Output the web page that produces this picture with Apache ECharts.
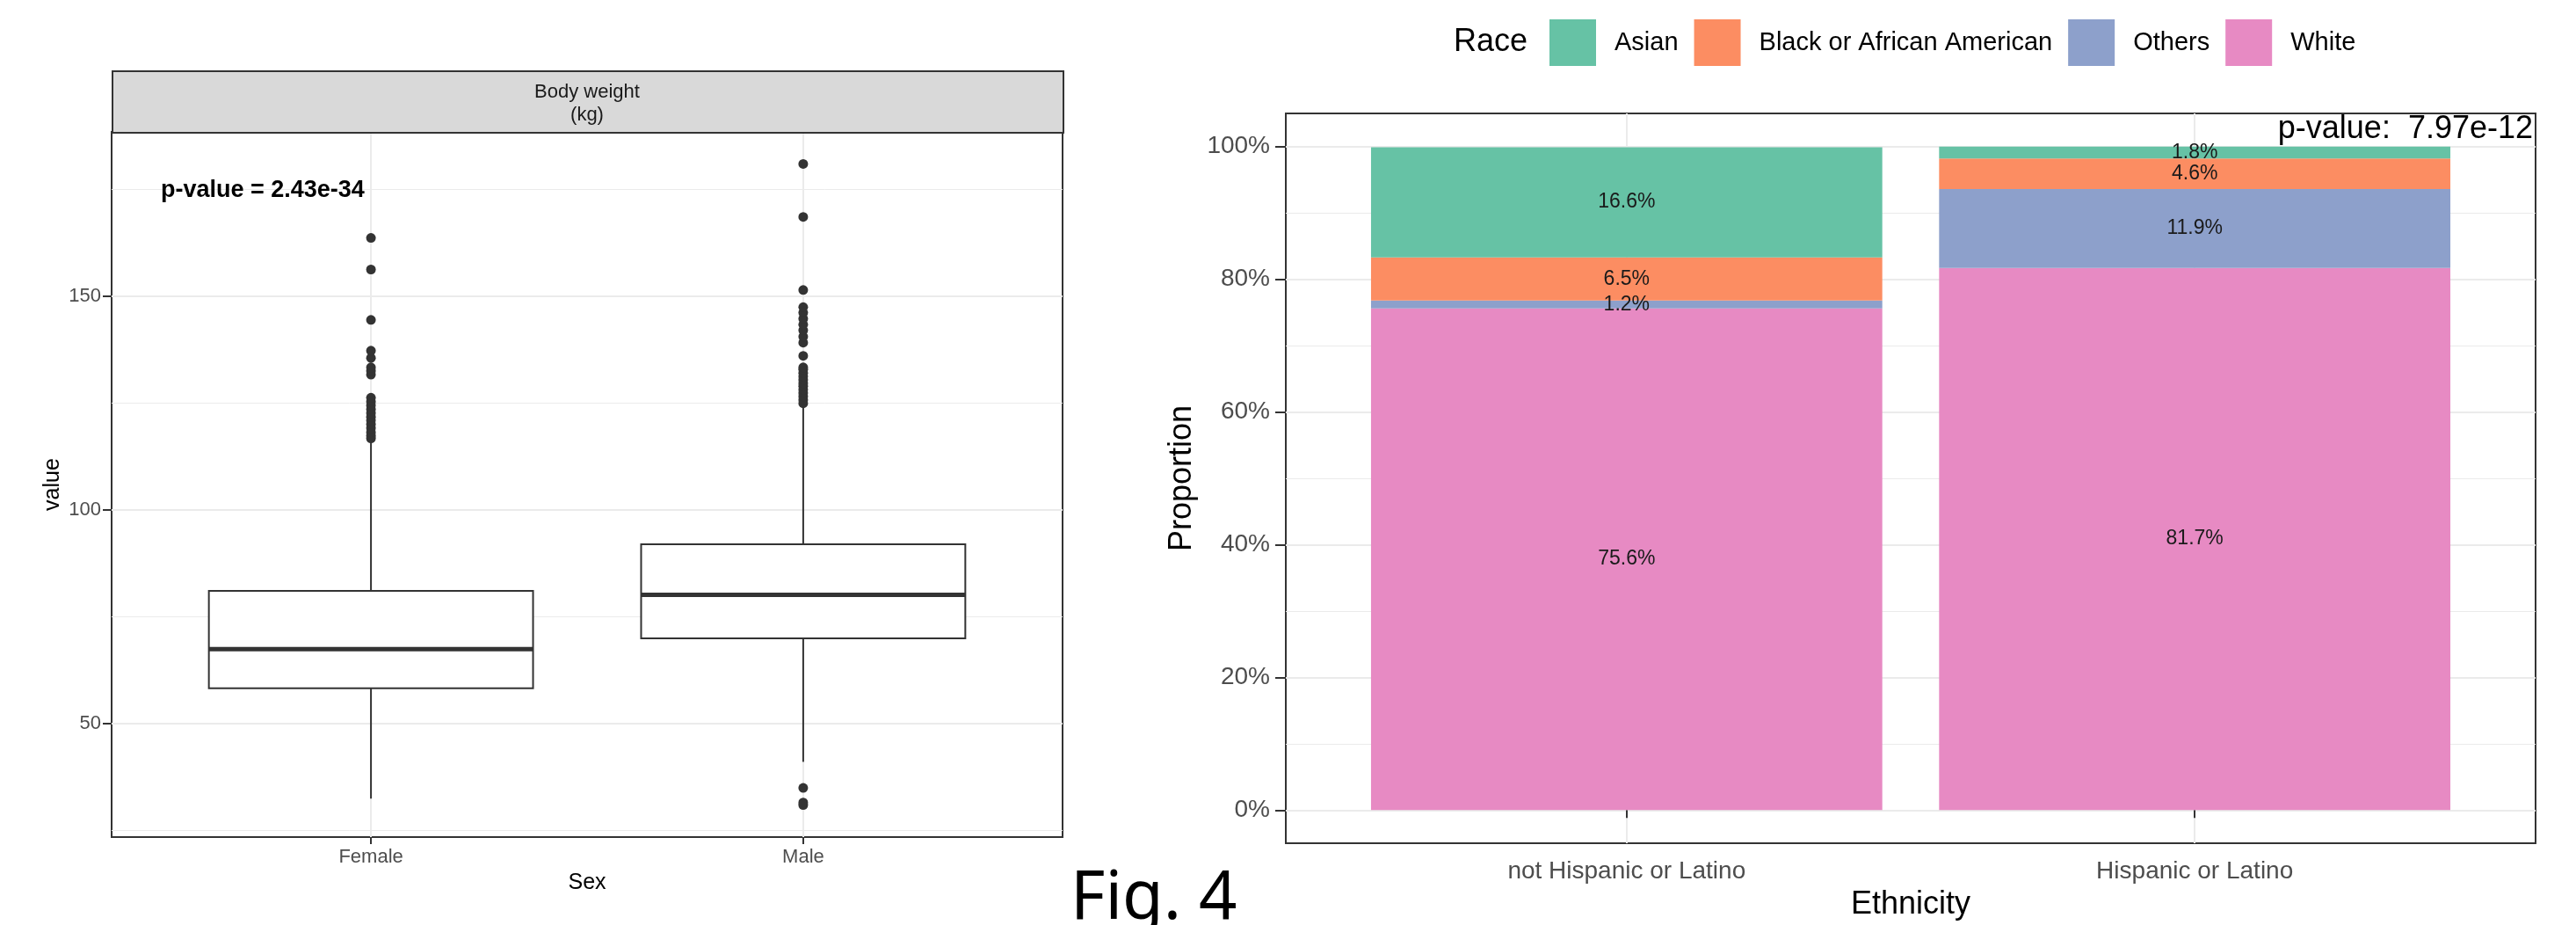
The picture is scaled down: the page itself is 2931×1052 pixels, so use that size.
<!DOCTYPE html>
<html>
<head>
<meta charset="utf-8">
<title>Fig. 4</title>
<script src="https://cdn.jsdelivr.net/npm/echarts@6/dist/echarts.min.js"></script>
<style>
  html, body { margin: 0; padding: 0; background: #fff; }
  #chart { width: 2931px; height: 1052px; }
</style>
</head>
<body>
<div id="chart"></div>
<script>
// ---- left panel: body weight by sex ----
var sexes = ['Female', 'Male'];
// [x, lower whisker, Q1, median, Q3, upper whisker]
var boxStats = [
  [1, 32.5, 58.3, 67.5, 81.1, 116.3],
  [2, 41.1, 70.0, 80.2, 92.0, 124.5]
];
var femaleOutliers = [116.8, 117.4, 118.2, 119.2, 120.1, 121.0, 121.8, 122.7, 123.6, 124.5,
  125.4, 126.3, 131.7, 132.6, 133.4, 135.6, 137.3, 144.5, 156.3, 163.7];
var maleOutliers = [31.0, 31.6, 35.0, 125.0, 125.8, 126.6, 127.4, 128.2, 129.0, 129.7, 130.5,
  131.3, 132.1, 132.9, 133.4, 136.1, 139.2, 140.6, 142.1, 143.4, 144.8, 146.2, 147.5,
  151.5, 168.6, 181.0];
var weightTicks = [50, 100, 150];
var weightMinor = [25, 75, 125, 175];

// ---- right panel: race by ethnicity ----
var ethnicities = ['not Hispanic or Latino', 'Hispanic or Latino'];
var races = ['Asian', 'Black or African American', 'Others', 'White'];
var raceColors = ['#66C2A5', '#FC8D62', '#8DA0CB', '#E78AC3'];
var asian = [16.6, 1.8];
var black = [6.5, 4.6];
var others = [1.2, 11.9];
var white = [75.6, 81.7];
var pctTicks = [0, 20, 40, 60, 80, 100];
var pctMinor = [10, 30, 50, 70, 90];

var FONT = '"Liberation Sans", Arial, sans-serif';
var GRID_COLOR = '#EBEBEB';

var myChart = echarts.init(document.getElementById('chart'), null, {renderer: 'canvas'});

// ggplot-like box: no whisker caps, thick median
function renderBox(params, api) {
  var x = api.value(0);
  var half = 0.375;
  var lt = api.coord([x - half, api.value(4)]);
  var rb = api.coord([x + half, api.value(2)]);
  var top = api.coord([x, api.value(5)]);
  var bot = api.coord([x, api.value(1)]);
  var med = api.coord([x, api.value(3)]);
  var ls = {stroke: '#333333', lineWidth: 2};
  return {
    type: 'group',
    children: [
      {type: 'line', shape: {x1: top[0], y1: top[1], x2: top[0], y2: lt[1]}, style: ls},
      {type: 'line', shape: {x1: bot[0], y1: rb[1], x2: bot[0], y2: bot[1]}, style: ls},
      {type: 'rect', shape: {x: lt[0], y: lt[1], width: rb[0] - lt[0], height: rb[1] - lt[1]},
        style: {fill: '#ffffff', stroke: '#333333', lineWidth: 2}},
      {type: 'line', shape: {x1: lt[0], y1: med[1], x2: rb[0], y2: med[1]},
        style: {stroke: '#333333', lineWidth: 5}}
    ]
  };
}

var outlierData = femaleOutliers.map(function (v) { return [1, v]; })
  .concat(maleOutliers.map(function (v) { return [2, v]; }));

// value first so the stack runs along y
function raceSeries(name, values, color) {
  return {
    name: name,
    type: 'bar',
    xAxisIndex: 1,
    yAxisIndex: 3,
    stack: 'race',
    barWidth: '90%',
    encode: {x: 1, y: 0},
    itemStyle: {color: color},
    label: {
      show: true,
      position: 'inside',
      fontSize: 23,
      fontFamily: FONT,
      color: '#1a1a1a',
      formatter: function (p) { return p.value[0].toFixed(1) + '%'; }
    },
    data: values.map(function (v, i) { return [v, i + 1]; })
  };
}

var option = {
  animation: false,
  backgroundColor: '#ffffff',
  textStyle: {fontFamily: FONT},
  grid: [
    {left: 127, top: 150, width: 1082, height: 802, show: true,
      borderColor: '#333333', borderWidth: 2, backgroundColor: 'transparent', outerBoundsMode: 'none'},
    {left: 1463, top: 129, width: 1422, height: 830, show: true,
      borderColor: '#333333', borderWidth: 2, backgroundColor: 'transparent', outerBoundsMode: 'none'}
  ],
  legend: {
    data: races,
    left: 1758,
    top: 17,
    itemWidth: 53,
    itemHeight: 53,
    itemGap: 18,
    icon: 'rect',
    textStyle: {fontSize: 29, color: '#000000', fontFamily: FONT, padding: [0, 0, 0, 16]}
  },
  xAxis: [
    {
      gridIndex: 0, type: 'value', min: 0.4, max: 2.6,
      axisLine: {show: false},
      axisTick: {customValues: [1, 2], length: 8, lineStyle: {color: '#333333', width: 2}},
      axisLabel: {customValues: [1, 2], margin: 12, fontSize: 22, color: '#4D4D4D',
        formatter: function (v) { return sexes[Math.round(v) - 1]; }},
      splitLine: {show: true, lineStyle: {color: GRID_COLOR, width: 2}},
      name: 'Sex', nameLocation: 'middle', nameGap: 40,
      nameTextStyle: {fontSize: 25, color: '#000000'}
    },
    {
      gridIndex: 1, type: 'value', min: 0.4, max: 2.6,
      axisLine: {show: false},
      axisTick: {customValues: [1, 2], length: 9, lineStyle: {color: '#333333', width: 2}},
      axisLabel: {customValues: [1, 2], margin: 18, fontSize: 28, color: '#4D4D4D',
        formatter: function (v) { return ethnicities[Math.round(v) - 1]; }},
      splitLine: {show: true, lineStyle: {color: GRID_COLOR, width: 2}},
      name: 'Ethnicity', nameLocation: 'middle', nameGap: 52,
      nameTextStyle: {fontSize: 36, color: '#000000'}
    }
  ],
  yAxis: [
    {
      gridIndex: 0, type: 'value', min: 23.5, max: 188.5,
      axisLine: {show: false},
      axisTick: {show: false, customValues: weightMinor},
      axisLabel: {show: false},
      splitLine: {show: true, lineStyle: {color: GRID_COLOR, width: 1}}
    },
    {
      gridIndex: 0, type: 'value', min: 23.5, max: 188.5, position: 'left',
      axisLine: {show: false},
      axisTick: {customValues: weightTicks, length: 10, lineStyle: {color: '#333333', width: 2}},
      axisLabel: {customValues: weightTicks, margin: 12, fontSize: 22, color: '#4D4D4D'},
      splitLine: {show: true, lineStyle: {color: GRID_COLOR, width: 2}},
      name: 'value', nameLocation: 'middle', nameGap: 54,
      nameTextStyle: {fontSize: 25, color: '#000000'}
    },
    {
      gridIndex: 1, type: 'value', min: -5, max: 105,
      axisLine: {show: false},
      axisTick: {show: false, customValues: pctMinor},
      axisLabel: {show: false},
      splitLine: {show: true, lineStyle: {color: GRID_COLOR, width: 1}}
    },
    {
      gridIndex: 1, type: 'value', min: -5, max: 105, position: 'left',
      axisLine: {show: false},
      axisTick: {customValues: pctTicks, length: 12, lineStyle: {color: '#333333', width: 2}},
      axisLabel: {customValues: pctTicks, margin: 18, fontSize: 28, color: '#4D4D4D',
        formatter: function (v) { return v + '%'; }},
      splitLine: {show: true, lineStyle: {color: GRID_COLOR, width: 2}},
      name: 'Proportion', nameLocation: 'middle', nameGap: 100,
      nameTextStyle: {fontSize: 36, color: '#000000'}
    }
  ],
  graphic: [
    // facet strip
    {type: 'rect', left: 127, top: 80, z: 10,
      shape: {width: 1082, height: 70},
      style: {fill: '#D9D9D9', stroke: '#333333', lineWidth: 2}},
    {type: 'text', x: 668, y: 118, z: 11,
      style: {text: 'Body weight\n(kg)', align: 'center', verticalAlign: 'middle',
        font: '22px ' + FONT, lineHeight: 26, fill: '#1A1A1A'}},
    {type: 'text', x: 183, y: 217, z: 11,
      style: {text: 'p-value = 2.43e-34', align: 'left', verticalAlign: 'middle',
        font: 'bold 27px ' + FONT, fill: '#000000'}},
    {type: 'text', x: 2882, y: 147, z: 11,
      style: {text: 'p-value:  7.97e-12', align: 'right', verticalAlign: 'middle',
        font: '36px ' + FONT, fill: '#000000'}},
    {type: 'text', x: 1654, y: 48, z: 11,
      style: {text: 'Race', align: 'left', verticalAlign: 'middle',
        font: '36px ' + FONT, fill: '#000000'}},
    {type: 'text', x: 1218, y: 1023, z: 11,
      style: {text: 'Fig. 4', align: 'left', verticalAlign: 'middle',
        font: '76px "Noto Sans", sans-serif', fill: '#000000'}}
  ],
  series: [
    {
      name: 'Body weight',
      type: 'custom',
      xAxisIndex: 0,
      yAxisIndex: 0,
      renderItem: renderBox,
      encode: {x: 0, y: [1, 2, 3, 4, 5]},
      data: boxStats,
      z: 3
    },
    {
      name: 'outliers',
      type: 'scatter',
      xAxisIndex: 0,
      yAxisIndex: 0,
      symbolSize: 11,
      itemStyle: {color: '#333333', opacity: 1},
      data: outlierData,
      z: 4
    },
    raceSeries('White', white, raceColors[3]),
    raceSeries('Others', others, raceColors[2]),
    raceSeries('Black or African American', black, raceColors[1]),
    raceSeries('Asian', asian, raceColors[0])
  ]
};

myChart.setOption(option);
</script>
</body>
</html>
